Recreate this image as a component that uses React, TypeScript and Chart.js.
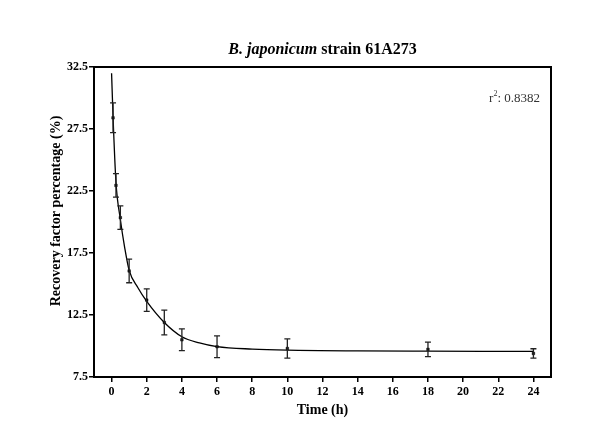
import React, { useEffect, useRef } from "react";
import { Chart, registerables } from "chart.js";

Chart.register(...registerables);

const times = [0.083, 0.25, 0.5, 1, 2, 3, 4, 6, 10, 18, 24];
const means = [28.4, 22.95, 20.35, 16.05, 13.7, 11.9, 10.5, 9.94, 9.8, 9.73, 9.4];
const sds = [1.2, 0.95, 0.95, 0.95, 0.9, 1.0, 0.88, 0.87, 0.78, 0.58, 0.38];

const curveX = [0, 0.083, 0.25, 0.5, 0.75, 1, 1.5, 2, 3, 4, 5, 6, 8, 10, 14, 18, 24];
const curveY = [32.0, 28.5, 23.2, 20.2, 17.9, 16.1, 14.7, 13.6, 11.9, 10.75, 10.25, 9.95, 9.75, 9.66, 9.6, 9.58, 9.57];

const xTicks = [0, 2, 4, 6, 8, 10, 12, 14, 16, 18, 20, 22, 24];
const yTicks = [7.5, 12.5, 17.5, 22.5, 27.5, 32.5];

const titleItalic = "B. japonicum";
const titleRest = " strain 61A273";
const r2Label = "r";
const r2Value = ": 0.8382";
const yTitle = "Recovery factor percentage (%)";
const xTitle = "Time (h)";

const SERIF = "'Liberation Serif', 'Times New Roman', serif";

const decorPlugin = {
  id: "decor",
  afterDatasetsDraw(chart: any) {
    const ctx = chart.ctx;
    const { left, right, top, bottom } = chart.chartArea;
    const xs = chart.scales.x;
    const ys = chart.scales.y;
    ctx.save();
    // error bars
    ctx.strokeStyle = "#222";
    ctx.lineWidth = 1.3;
    for (let i = 0; i < times.length; i++) {
      const px = xs.getPixelForValue(times[i]);
      const pTop = ys.getPixelForValue(means[i] + sds[i]);
      const pBot = ys.getPixelForValue(means[i] - sds[i]);
      ctx.beginPath();
      ctx.moveTo(px, pTop);
      ctx.lineTo(px, pBot);
      ctx.moveTo(px - 3, pTop);
      ctx.lineTo(px + 3, pTop);
      ctx.moveTo(px - 3, pBot);
      ctx.lineTo(px + 3, pBot);
      ctx.stroke();
    }
    // box
    ctx.strokeStyle = "#000";
    ctx.lineWidth = 2;
    ctx.strokeRect(left, top, right - left, bottom - top);

    // title
    ctx.fillStyle = "#000";
    ctx.textBaseline = "alphabetic";
    const f1 = `italic bold 16px ${SERIF}`;
    const f2 = `bold 16px ${SERIF}`;
    ctx.font = f1;
    const w1 = ctx.measureText(titleItalic).width;
    ctx.font = f2;
    const w2 = ctx.measureText(titleRest).width;
    const cx = (left + right) / 2;
    let tx = cx - (w1 + w2) / 2;
    ctx.textAlign = "left";
    ctx.font = f1;
    ctx.fillText(titleItalic, tx, 54);
    ctx.font = f2;
    ctx.fillText(titleRest, tx + w1, 54);

    // r2 text
    ctx.fillStyle = "#333";
    ctx.font = `13px ${SERIF}`;
    const wv = ctx.measureText(r2Value).width;
    const xr = right - 11;
    ctx.textAlign = "right";
    ctx.fillText(r2Value, xr, 102);
    ctx.font = `8px ${SERIF}`;
    const ws = ctx.measureText("2").width;
    ctx.fillText("2", xr - wv, 96);
    ctx.font = `13px ${SERIF}`;
    ctx.fillText(r2Label, xr - wv - ws, 102);

    // axis titles
    ctx.fillStyle = "#000";
    ctx.font = `bold 14px ${SERIF}`;
    ctx.textAlign = "center";
    ctx.textBaseline = "middle";
    ctx.fillText(xTitle, cx, 410);
    ctx.translate(56, 211);
    ctx.rotate(-Math.PI / 2);
    ctx.fillText(yTitle, 0, 0);
    ctx.restore();
  },
};

export default function App() {
  const ref = useRef<HTMLCanvasElement>(null);
  useEffect(() => {
    if (!ref.current) return;
    const chart = new Chart(ref.current, {
      type: "scatter",
      data: {
        datasets: [
          {
            label: "fit",
            data: curveX.map((x, i) => ({ x, y: curveY[i] })),
            showLine: true,
            borderColor: "#000",
            borderWidth: 1.3,
            pointRadius: 0,
            cubicInterpolationMode: "monotone",
            fill: false,
          },
          {
            label: "data",
            data: times.map((x, i) => ({ x, y: means[i] })),
            showLine: false,
            pointStyle: "rect",
            pointRadius: 1.8,
            backgroundColor: "#000",
            borderColor: "#000",
            borderWidth: 0.5,
          },
        ],
      },
      options: {
        responsive: false,
        animation: false,
        layout: { padding: { top: 67, right: 49, left: 0, bottom: 0 } },
        plugins: { legend: { display: false }, tooltip: { enabled: false }, title: { display: false } },
        scales: {
          x: {
            type: "linear",
            min: -1,
            max: 25,
            afterBuildTicks: (s: any) => {
              s.ticks = xTicks.map((v) => ({ value: v }));
            },
            afterFit: (s: any) => {
              s.height = 68;
            },
            grid: { display: true, drawOnChartArea: false, drawTicks: true, tickLength: 5, color: "#000", lineWidth: 1.5 },
            border: { display: true, color: "#000", width: 2 },
            ticks: {
              color: "#000",
              font: { family: SERIF, size: 12, weight: "bold" },
              padding: 3,
              maxRotation: 0,
              autoSkip: false,
              callback: (v: any) => String(v),
            },
          },
          y: {
            type: "linear",
            min: 7.5,
            max: 32.5,
            afterBuildTicks: (s: any) => {
              s.ticks = yTicks.map((v) => ({ value: v }));
            },
            afterFit: (s: any) => {
              s.width = 94;
            },
            grid: { display: true, drawOnChartArea: false, drawTicks: true, tickLength: 5, color: "#000", lineWidth: 1.5 },
            border: { display: true, color: "#000", width: 2 },
            ticks: {
              color: "#000",
              font: { family: SERIF, size: 12, weight: "bold" },
              padding: 1,
              autoSkip: false,
              callback: (v: any) => Number(v).toFixed(1),
            },
          },
        },
      },
      plugins: [decorPlugin],
    } as any);
    return () => chart.destroy();
  }, []);
  return (
    <div style={{ position: "fixed", left: 0, top: 0, width: 600, height: 445, background: "#fff" }}>
      <canvas ref={ref} width={600} height={445} />
    </div>
  );
}
